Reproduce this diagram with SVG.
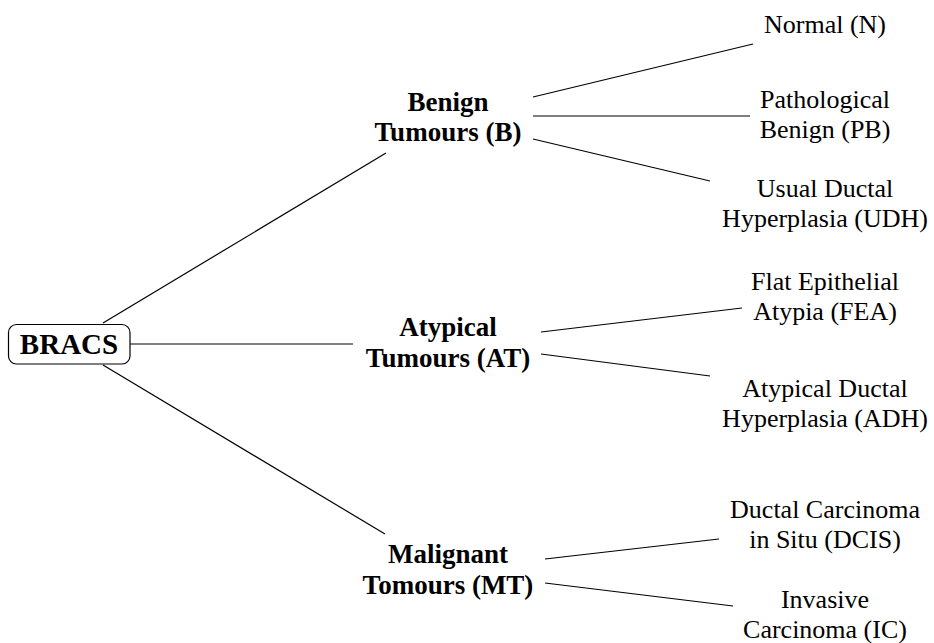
<svg xmlns="http://www.w3.org/2000/svg" width="934" height="643" viewBox="0 0 934 643">
<style>
.t{font-family:"Liberation Serif","DejaVu Serif",serif;font-size:26px;fill:#000;text-anchor:middle}
.b{font-family:"Liberation Serif","DejaVu Serif",serif;font-size:27px;font-weight:bold;fill:#000;text-anchor:middle}
.c line{stroke:#000;stroke-width:1.2;fill:none}
</style>
<rect width="934" height="643" fill="#fff"/>
<g class="c" id="connectors">
<line x1="103" y1="323" x2="386" y2="153"/>
<line x1="130" y1="344" x2="353" y2="344"/>
<line x1="103" y1="365" x2="385" y2="534"/>
<line x1="533" y1="97" x2="753" y2="44"/>
<line x1="533" y1="116" x2="750" y2="116"/>
<line x1="533" y1="139" x2="710" y2="181"/>
<line x1="541" y1="332" x2="742" y2="308"/>
<line x1="541" y1="354" x2="710" y2="376"/>
<line x1="545" y1="559" x2="719" y2="539"/>
<line x1="545" y1="583" x2="733" y2="606"/>
</g>
<g id="bracs">
<rect x="8.5" y="324.5" width="121.5" height="39.5" rx="8" ry="8" fill="#fff" stroke="#000" stroke-width="1.2"/>
<text class="b" x="69" y="354" style="font-size:29px">BRACS</text>
</g>
<g id="benign"><text class="b" x="448"><tspan x="448" y="111">Benign</tspan><tspan x="448" y="141">Tumours (B)</tspan></text></g>
<g id="atypical"><text class="b" x="448"><tspan x="448" y="336">Atypical</tspan><tspan x="448" y="367">Tumours (AT)</tspan></text></g>
<g id="malignant"><text class="b" x="448"><tspan x="448" y="563">Malignant</tspan><tspan x="448" y="594">Tomours (MT)</tspan></text></g>
<g id="normal"><text class="t" x="825" y="33">Normal (N)</text></g>
<g id="pb"><text class="t"><tspan x="825" y="108">Pathological</tspan><tspan x="825" y="138">Benign (PB)</tspan></text></g>
<g id="udh"><text class="t"><tspan x="825" y="197">Usual Ductal</tspan><tspan x="825" y="227">Hyperplasia (UDH)</tspan></text></g>
<g id="fea"><text class="t"><tspan x="825" y="290">Flat Epithelial</tspan><tspan x="825" y="320">Atypia (FEA)</tspan></text></g>
<g id="adh"><text class="t"><tspan x="825" y="397">Atypical Ductal</tspan><tspan x="825" y="427">Hyperplasia (ADH)</tspan></text></g>
<g id="dcis"><text class="t"><tspan x="825" y="518">Ductal Carcinoma</tspan><tspan x="825" y="548">in Situ (DCIS)</tspan></text></g>
<g id="ic"><text class="t"><tspan x="825" y="608">Invasive</tspan><tspan x="825" y="638">Carcinoma (IC)</tspan></text></g>
</svg>
